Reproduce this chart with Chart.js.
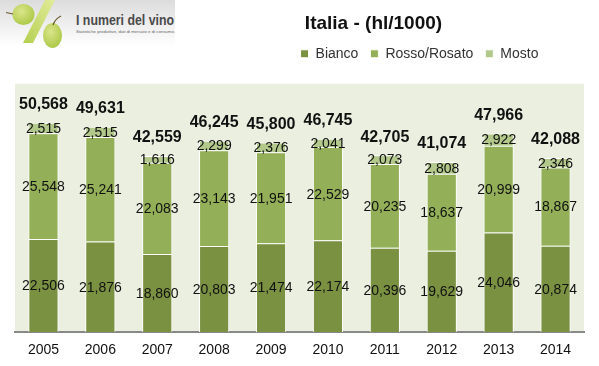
<!DOCTYPE html>
<html><head><meta charset="utf-8">
<script src="https://cdn.jsdelivr.net/npm/chart.js@4/dist/chart.umd.min.js"></script>
<style>
html,body{margin:0;padding:0;background:#fff;width:599px;height:366px;overflow:hidden}
#wrap{position:relative;width:599px;height:366px}
canvas{position:absolute;left:0;top:0}
#logo{position:absolute;left:0;top:0}
</style></head><body>
<div id="wrap">
<canvas id="c" width="599" height="366"></canvas>
<svg id="logo" width="176" height="50" viewBox="0 0 176 50">
<defs>
<linearGradient id="bg" x1="0" y1="0" x2="0" y2="1"><stop offset="0" stop-color="#dcdcdc"/><stop offset="1" stop-color="#ffffff"/></linearGradient>
<radialGradient id="g" cx="0.4" cy="0.35" r="0.8"><stop offset="0" stop-color="#dbe58a"/><stop offset="1" stop-color="#a3c43c"/></radialGradient>
<linearGradient id="s" x1="1" y1="0" x2="0" y2="1"><stop offset="0" stop-color="#e2eb9a"/><stop offset="1" stop-color="#b4d050"/></linearGradient>
</defs>
<rect width="175" height="46" fill="url(#bg)"/>
<path d="M45 0 L55 0 L33 43 L23 43 Z" fill="url(#s)"/>
<ellipse cx="23.5" cy="14.5" rx="11" ry="10.5" fill="url(#g)"/>
<ellipse cx="52.5" cy="35.5" rx="9.5" ry="12.5" fill="url(#g)"/>
<path d="M6 12.5 L13 14 M53 25 Q55 19 61 16" stroke="#6b5a2a" stroke-width="1.2" fill="none"/>
<text x="76" y="24.5" font-family="'Liberation Sans'" font-size="15.5" font-weight="bold" fill="#4a4a4a" textLength="98" lengthAdjust="spacingAndGlyphs">I numeri del vino</text>
<text x="76" y="32.5" font-family="'Liberation Sans'" font-size="3.6" fill="#666" textLength="99" lengthAdjust="spacingAndGlyphs">Statistiche produttive, dati di mercato e di consumo.</text>
</svg>
</div>
<script>
const years = ["2005","2006","2007","2008","2009","2010","2011","2012","2013","2014"];
const bianco = [22506,21876,18860,20803,21474,22174,20396,19629,24046,20874];
const rosso = [25548,25241,22083,23143,21951,22529,20235,18637,20999,18867];
const mosto = [2515,2515,1616,2299,2376,2041,2073,2808,2922,2346];
const totals = [50568,49631,42559,46245,45800,46745,42705,41074,47966,42088];
const FONT = "'Liberation Sans', Arial, sans-serif";
const fmt = v => v.toLocaleString('en-US');

const plotBg = {
  id:'plotBg',
  afterLayout(chart){
    const t = chart.titleBlock, l = chart.legend;
    t.left += 74; t.right += 74;
    l.left += 120; l.right += 120; l.top -= 13; l.bottom -= 13;
  },
  beforeDraw(chart){
    const {ctx,chartArea:a} = chart;
    ctx.save(); ctx.fillStyle='#ebefe0';
    ctx.fillRect(a.left,a.top,a.right-a.left,a.bottom-a.top);
    ctx.restore();
  }
};
const labels = {
  id:'labels',
  afterDatasetsDraw(chart){
    const ctx = chart.ctx;
    ctx.save();
    ctx.textAlign='center'; ctx.textBaseline='middle'; ctx.fillStyle='#111';
    ctx.font = "14px "+FONT;
    chart.data.datasets.forEach((ds,i)=>{
      chart.getDatasetMeta(i).data.forEach((el,j)=>{
        ctx.fillText(fmt(ds.data[j]), el.x, (el.y+el.base)/2 + 1);
      });
    });
    ctx.font = "bold 16px "+FONT;
    chart.getDatasetMeta(2).data.forEach((el,j)=>{ ctx.fillText(fmt(totals[j]), el.x, el.y-18); });
    ctx.restore();
  }
};
new Chart(document.getElementById('c'),{
  type:'bar',
  data:{labels:years,datasets:[
    {label:'Bianco',data:bianco,backgroundColor:'#7a9142'},
    {label:'Rosso/Rosato',data:rosso,backgroundColor:'#93b058'},
    {label:'Mosto',data:mosto,backgroundColor:'#b3c98c'}
  ].map(d=>Object.assign(d,{borderColor:'#ffffff',borderWidth:1,barPercentage:0.53,categoryPercentage:1}))},
  options:{
    responsive:false,animation:false,
    layout:{padding:{left:15,right:15,top:12,bottom:0}},
    plugins:{
      tooltip:{enabled:false},
      title:{display:true,text:'Italia - (hl/1000)',color:'#111',font:{family:FONT,size:19,weight:'bold'},padding:{top:0,bottom:13}},
      legend:{display:true,position:'top',labels:{boxWidth:8,boxHeight:8,color:'#333',font:{family:FONT,size:14},padding:12}}
    },
    scales:{
      x:{stacked:true,grid:{display:false,drawTicks:false},border:{color:'#888',width:2},
         afterFit(s){ s.height = 34; },
         ticks:{color:'#111',font:{family:FONT,size:14},padding:10,maxRotation:0}},
      y:{stacked:true,display:false,min:0,max:60000}
    }
  },
  plugins:[plotBg,labels]
});
</script>
</body></html>
